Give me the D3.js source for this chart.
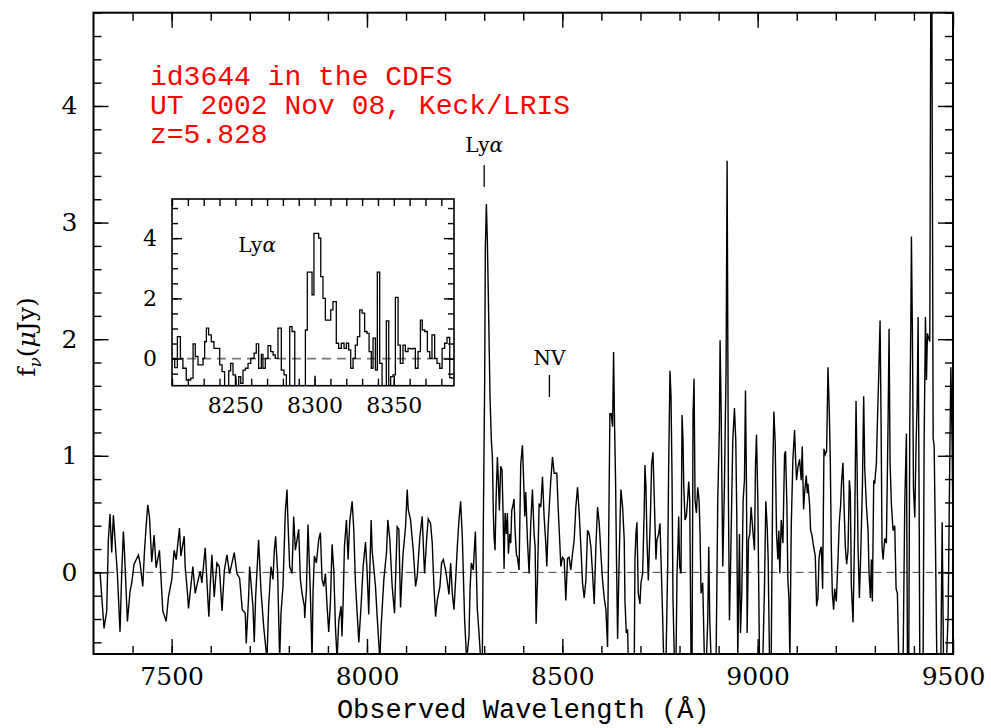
<!DOCTYPE html>
<html>
<head>
<meta charset="utf-8">
<script src="https://cdn.jsdelivr.net/npm/d3@7"></script>
<style>
  body { margin: 0; background: #fff; }
  svg { display: block; }
</style>
</head>
<body>
<svg id="chart" width="991" height="728"></svg>
<script>
// Observed wavelength (A) of each vertex of the 1-d spectrum
const wavelength = [
  // 7300 - 7790
  7316.7,7326.9,7333.8,7338.0,7342.3,7346.6,7350.9,7355.1,7361.1,7367.9,
  7372.2,7376.5,7379.1,7386.8,7393.6,7397.9,7403.8,7415.0,7419.2,7426.1,
  7430.3,7434.6,7438.9,7443.2,7449.1,7455.1,7460.3,7468.8,7472.2,7477.4,
  7485.9,7491.9,7500.4,7506.4,7511.5,7520.1,7523.5,7532.1,7534.6,7540.6,
  7543.2,7549.1,7554.3,7560.3,7566.2,7573.1,7577.4,7585.9,7591.9,7595.3,
  7598.7,7603.0,7609.0,7615.8,7622.0,7629.0,7635.0,7641.5,7648.3,7660.3,
  7667.1,7674.0,7680.8,7688.5,7691.0,7697.0,7699.6,7708.1,7711.5,7715.0,
  7722.6,7728.6,7735.5,7744.0,7748.3,7754.3,7759.4,7762.8,7766.2,7771.4,
  7776.5,7779.9,7785.0,
  // 7790 - 8270
  7791.0,7795.3,7797.0,7802.1,7808.1,7812.4,7816.7,7821.0,7825.2,7829.5,
  7833.8,7839.7,7840.6,7844.9,7849.1,7855.1,7859.4,7862.0,7865.4,7870.5,
  7876.5,7880.8,7885.0,7889.3,7893.6,7897.9,7902.1,7906.4,7910.7,7915.0,
  7919.2,7923.5,7927.8,7933.8,7936.0,7938.9,7942.3,7947.4,7951.7,7956.0,
  7962.0,7966.2,7970.5,7979.1,7985.0,7990.2,7996.2,8000.5,8004.5,8008.0,
  8010.7,8013.2,8021.8,8026.1,8032.9,8036.3,8043.2,8050.0,8053.4,8058.5,
  8064.5,8070.5,8073.1,8077.3,8081.6,8085.9,8091.9,8098.7,8103.0,8105.6,
  8111.5,8118.4,8124.4,8128.6,8135.5,8141.4,8145.7,8147.4,8152.6,8156.8,
  8162.8,8167.1,8171.4,8175.6,8179.9,8186.7,8191.0,8195.3,8201.3,8207.3,
  8209.8,8214.1,8218.4,8222.7,8227.0,8231.2,8235.5,8239.7,8244.0,8246.6,
  8250.0,8255.1,8261.1,8263.7,8267.1,
  // 8270 - 8645
  8272.0,8277.4,8282.5,8286.8,8291.0,8295.3,8297.9,8301.3,8303.0,8305.6,
  8308.1,8310.7,8315.0,8318.4,8321.0,8323.5,8325.2,8327.8,8330.4,8333.8,
  8336.3,8338.9,8342.3,8345.7,8348.3,8350.9,8353.4,8356.9,8359.4,8362.0,
  8365.4,8368.0,8370.5,8374.0,8376.5,8379.1,8382.5,8385.1,8389.3,8393.6,
  8397.9,8400.4,8403.9,8406.4,8410.7,8415.0,8419.2,8423.5,8427.8,8430.4,
  8432.9,8436.3,8440.6,8444.9,8449.2,8453.4,8457.7,8460.3,8463.7,8470.5,
  8474.8,8479.1,8485.9,8489.3,8492.8,8496.2,8500.4,8504.7,8509.0,8513.3,
  8517.5,8521.8,8526.1,8530.4,8534.6,8538.9,8543.2,8547.5,8551.7,8556.0,
  8560.3,8564.6,8568.8,8573.1,8577.4,8581.6,8585.9,8590.2,8594.5,8598.7,
  8603.0,8607.3,8611.6,8615.8,8618.4,8621.8,8625.2,8628.6,8631.2,8633.8,
  8636.3,8638.9,8641.5,8644.9,
  // 8645 - 9060
  8648.3,8650.0,8654.3,8658.5,8660.3,8663.7,8667.1,8668.8,8684.2,8685.9,
  8688.5,8691.0,8694.4,8698.7,8701.3,8705.6,8709.8,8711.5,8714.1,8716.7,
  8720.1,8725.2,8728.6,8732.1,8735.5,8739.7,8742.3,8746.6,8750.0,8752.6,
  8756.8,8759.4,8765.4,8769.7,8772.2,8775.6,8778.2,8780.8,8783.3,8786.8,
  8791.0,8793.6,8795.3,8797.9,8800.4,8803.8,8806.4,8809.0,8810.7,8814.1,
  8817.5,8820.9,8823.5,8826.1,8829.5,8832.1,8834.6,8837.2,8839.7,8843.2,
  8846.6,8850.0,8852.6,8855.1,8859.4,8863.7,8868.8,8872.2,8874.8,8877.4,
  8880.8,8893.6,8897.9,8902.1,8903.8,8906.4,8910.7,8915.0,8919.2,8921.8,
  8925.2,8927.8,8930.3,8936.3,8940.6,8944.0,8946.6,8949.1,8953.4,8956.0,
  8959.4,8962.8,8966.2,8968.8,8971.4,8973.1,8976.5,8979.9,8983.3,8987.6,
  8991.9,8994.4,8997.0,9000.4,9004.7,9013.2,9017.5,9020.9,9024.4,9026.9,
  9030.3,9034.6,9038.9,9041.5,9044.9,9048.3,9051.7,9054.3,9056.8,9060.3,
  // 9060 - 9500
  9064.6,9068.8,9071.4,9074.8,9077.4,9080.0,9082.5,9086.0,9090.2,9094.5,
  9097.1,9099.6,9103.0,9107.3,9111.6,9114.1,9117.6,9120.1,9124.4,9127.0,
  9128.7,9133.0,9135.5,9138.9,9143.2,9147.5,9150.9,9154.3,9156.9,9159.4,
  9162.9,9166.3,9169.7,9173.1,9176.5,9180.0,9183.4,9186.0,9188.5,9191.1,
  9194.5,9197.1,9201.3,9205.6,9209.0,9212.4,9215.0,9218.4,9221.0,9224.4,
  9227.8,9231.2,9234.7,9237.2,9239.8,9244.1,9248.3,9251.8,9254.3,9256.9,
  9260.3,9263.7,9268.0,9271.4,9274.0,9278.2,9282.5,9285.1,9288.5,9291.1,
  9293.6,9297.1,9299.6,9303.9,9306.5,9309.9,9313.3,9315.9,9318.4,9321.0,
  9325.3,9329.5,9333.8,9336.4,9338.9,9342.4,9346.6,9350.9,9354.3,9357.7,
  9361.2,9372.3,9376.5,9380.8,9383.4,9386.8,9389.4,9391.9,9393.6,9396.2,
  9398.8,9402.2,9405.6,9408.2,9410.7,9413.3,9415.0,9423.5,9426.1,9429.5,
  9432.1,9434.6,9437.2,9440.6,9443.2,9445.8,9449.2,9451.8,9455.2,9458.6,
  9468.9,9472.3,9475.7,9483.4,9487.6,9491.9,9494.5,9497.9,9500.0
];

// f_nu (micro-Jy) at each vertex; values below -0.7 / above 4.8 run off the frame
const flux = [
  0.00,-0.48,-0.33,0.28,0.50,0.17,0.49,0.28,-0.01,-0.51,
  -0.01,0.35,0.19,-0.42,-0.16,-0.09,0.07,0.15,0.08,-0.12,
  0.17,0.39,0.58,0.48,0.09,0.32,0.04,0.19,-0.01,-0.33,
  -0.42,-0.21,-0.06,0.19,0.11,0.38,0.14,0.31,0.05,-0.18,
  -0.31,-0.12,0.05,-0.18,-0.09,0.01,-0.09,0.21,-0.18,-0.38,
  -0.12,0.15,-0.21,0.08,0.05,-0.33,0.02,0.15,-0.01,0.17,
  -0.01,-0.05,-0.32,-0.35,-0.61,-0.21,0.05,-0.29,-0.60,-0.21,
  0.28,-0.15,-0.46,-0.75,-0.29,0.05,-0.06,0.19,0.31,-0.01,
  -0.75,-0.35,-0.12,

  0.52,0.71,0.51,0.05,-0.01,0.48,0.19,0.28,0.37,-0.06,
  -0.18,-0.29,-0.39,-0.15,0.41,-0.18,-0.75,-0.16,0.14,0.08,
  0.28,0.34,-0.06,-0.12,-0.01,-0.29,-0.51,-0.26,0.24,0.02,
  -0.46,-0.75,-0.42,-0.29,-0.55,-0.26,0.22,0.45,0.11,0.44,
  0.61,0.37,-0.09,-0.60,-0.28,0.05,0.26,0.00,-0.36,0.10,
  0.45,0.19,-0.12,-0.38,-0.75,-0.46,-0.06,0.17,0.45,0.28,
  -0.12,-0.35,-0.06,0.39,0.37,-0.30,0.14,0.39,0.71,0.54,
  0.45,0.19,-0.12,-0.03,0.31,0.48,0.11,-0.01,0.28,0.46,
  0.42,0.25,-0.12,-0.38,-0.24,-0.12,0.08,0.11,0.02,-0.12,
  -0.19,0.08,-0.18,-0.32,-0.06,0.22,0.45,0.61,0.31,-0.01,
  -0.41,-0.75,-0.55,-0.15,0.08,

  0.02,0.35,-0.32,-0.52,-0.75,-0.75,0.45,1.65,2.79,3.16,
  2.85,2.36,1.50,1.13,0.99,0.51,0.31,0.19,0.62,0.99,
  0.79,0.53,0.91,0.88,0.51,0.03,0.51,0.33,0.51,0.16,
  0.33,0.25,0.53,0.58,0.63,0.36,0.15,0.13,0.02,0.93,
  1.09,0.85,0.48,0.69,0.28,-0.01,0.42,0.71,0.33,0.22,
  -0.44,-0.07,0.59,0.56,0.82,0.48,0.25,0.05,0.39,0.79,
  0.99,0.85,0.85,0.56,0.31,0.05,0.13,0.11,-0.24,0.12,
  0.13,0.02,0.16,0.28,0.56,0.73,0.51,0.22,-0.09,-0.22,
  -0.07,0.36,0.33,0.22,-0.01,-0.27,0.22,0.56,0.42,0.16,
  -0.07,-0.22,-0.32,-0.64,0.22,1.36,1.36,1.25,1.89,1.25,
  0.79,0.05,-0.57,0.02,

  0.51,0.71,0.56,0.28,-0.24,-0.52,-0.49,-0.75,-0.75,0.11,
  0.33,0.43,-0.18,-0.27,-0.09,-0.01,0.56,0.92,0.73,0.28,
  -0.07,0.45,0.93,1.03,0.62,0.11,0.28,0.33,0.42,0.11,
  -0.38,-0.75,-0.75,0.05,0.91,1.73,1.51,0.82,-0.24,-0.75,
  -0.75,-0.01,0.16,0.48,0.05,-0.01,1.35,1.13,0.76,0.45,
  0.48,0.63,0.78,0.62,-0.75,-0.75,1.36,1.66,0.62,0.51,
  0.73,0.62,0.33,-0.18,-0.09,-0.75,-0.75,-0.41,0.22,-0.41,
  -0.75,-0.75,0.62,1.25,1.99,1.42,0.05,0.76,1.76,3.53,
  0.62,-0.41,-0.01,1.13,1.41,1.13,0.48,-0.75,0.33,-0.52,
  -0.18,0.62,0.79,1.56,0.73,-0.52,0.28,0.33,0.56,0.36,
  0.19,0.91,1.18,0.62,-0.75,-0.75,-0.12,0.61,0.39,0.11,
  -0.75,-0.75,0.91,1.38,1.11,0.33,0.11,0.36,-0.01,0.45,

  0.25,1.01,1.04,0.58,-0.07,-0.22,-0.75,0.40,0.97,1.22,
  0.97,0.79,0.90,0.97,0.79,1.08,0.54,0.68,0.83,0.68,
  0.76,0.58,0.36,0.32,0.22,0.14,-0.29,-0.22,0.11,0.18,
  0.22,-0.14,1.06,1.01,1.04,1.76,1.37,0.94,0.22,-0.18,
  -0.32,-0.14,-0.25,0.11,0.43,0.58,0.79,0.94,0.58,0.22,
  0.07,0.18,0.79,0.68,-0.11,-0.43,0.36,1.47,0.94,0.22,
  -0.22,0.14,0.72,1.51,0.90,0.58,0.36,0.00,-0.22,0.11,
  -0.25,0.79,0.76,0.94,1.29,1.69,2.16,1.29,0.22,0.11,
  0.29,0.25,1.29,2.09,0.94,0.58,0.36,0.40,-0.14,-0.18,
  -0.75,-0.75,0.58,1.19,-0.75,-0.75,1.29,2.09,2.88,2.01,
  0.72,0.47,1.12,1.44,2.19,0.58,-0.75,-0.75,1.12,2.19,
  1.65,2.05,2.01,1.98,5.00,5.00,1.15,1.08,0.22,-0.75,
  -0.75,0.43,-0.75,-0.75,-0.36,1.01,1.76,1.08,0.22
];

// inset: unsmoothed pixels around Ly-alpha, start wavelength of each step
const insetEdge = [
  8210.0,8211.7,8213.4,8215.3,8216.9,8219.0,8221.8,8223.3,8224.7,8226.4,
  8229.6,8230.6,8231.7,8233.1,8234.8,8236.5,8240.1,8241.6,8243.2,8245.8,
  8247.0,8248.5,8250.0,8252.1,8253.4,8254.8,8256.3,8258.0,8259.7,8261.8,
  8263.2,8264.7,8266.4,8267.4,8268.9,8270.6,8272.3,8273.8,8275.2,8276.9,
  8279.0,8280.7,8282.2,8284.3,8285.8,8287.5,8294.2,8295.4,8298.4,8299.6,
  8302.6,8303.9,8305.3,8306.8,8310.2,8311.6,8313.7,8315.2,8316.9,8318.6,
  8320.1,8321.5,8322.8,8324.3,8325.7,8327.0,8328.5,8330.0,8331.6,8333.1,
  8334.4,8335.8,8336.9,8338.4,8339.6,8341.1,8342.6,8345.3,8346.8,8348.0,
  8349.5,8351.0,8352.7,8354.1,8355.8,8357.3,8359.0,8360.5,8362.1,8363.6,
  8365.3,8366.8,8368.0,8369.5,8371.2,8372.7,8374.1,8375.8,8377.3,8379.0,
  8380.5,8382.1,8383.6,8385.3,8386.3
];
const insetFlux = [
  0.01,-0.30,0.73,0.01,-0.32,-0.71,-0.65,0.49,0.07,-0.21,
  0.01,0.56,1.01,0.79,0.56,0.34,-0.21,-0.43,-1.20,-0.41,
  -0.16,-0.54,-1.20,-0.60,-0.82,-0.38,-0.32,-0.16,0.01,0.18,
  0.49,-0.32,0.14,-0.32,0.01,0.43,0.23,0.12,0.01,1.01,
  -0.38,-0.54,-1.20,1.06,0.90,-1.20,0.95,2.87,2.12,4.16,
  4.00,2.72,2.00,1.28,1.62,1.89,0.51,0.34,0.51,0.34,
  0.51,0.29,-0.32,0.01,0.45,0.73,1.62,1.51,0.90,0.84,
  0.23,-0.32,0.68,-0.38,2.87,-0.16,-1.20,1.25,-1.20,-0.60,
  -0.54,2.03,0.45,-0.16,0.45,0.23,0.34,0.32,0.34,-0.32,
  0.23,1.28,0.95,0.90,0.23,0.01,0.79,0.01,-0.16,-0.32,
  0.34,0.51,0.70,-0.63,-0.65
];
const insetEnd = 8388;

const xMajor = [7500, 8000, 8500, 9000, 9500];
const yMajor = [0, 1, 2, 3, 4];
const insetXMajor = [8250, 8300, 8350];
const insetYMajor = [0, 2, 4];

const infoLines = ['id3644 in the CDFS', 'UT 2002 Nov 08, Keck/LRIS', 'z=5.828'];
const lineNames = ['Ly', 'NV'];
const lineWave = [8300, 8467];

const SERIF = "'DejaVu Serif', serif";
const MONO = "'Liberation Mono', monospace";

const svg = d3.select('#chart');

// ---- main panel ----
const x = d3.scaleLinear().domain([7300, 9500]).range([93.5, 953]);
const y = d3.scaleLinear().domain([-0.7, 4.8]).range([654, 12.7]);

svg.append('clipPath').attr('id', 'mainClip')
  .append('rect')
  .attr('x', x(7300)).attr('y', y(4.8))
  .attr('width', x(9500) - x(7300)).attr('height', y(-0.7) - y(4.8));

svg.append('line')
  .attr('x1', x(7300)).attr('x2', x(9500))
  .attr('y1', y(0)).attr('y2', y(0))
  .attr('stroke', '#444').attr('stroke-width', 1)
  .attr('stroke-dasharray', '8,5');

const spectrum = wavelength.map((w, i) => [w, flux[i]]);
svg.append('path')
  .datum(spectrum)
  .attr('clip-path', 'url(#mainClip)')
  .attr('fill', 'none')
  .attr('stroke', '#000')
  .attr('stroke-width', 1.4)
  .attr('d', d3.line().x(d => x(d[0])).y(d => y(d[1])));

const xMinor = d3.range(7400, 9500, 100);
const yMinor = d3.range(-3, 25).map(i => +(i * 0.2).toFixed(1));

const tidy = (g, size) => {
  g.select('.domain').remove();
  g.attr('font-family', SERIF).attr('font-size', size);
  g.selectAll('.tick line').attr('stroke', '#000').attr('stroke-width', 1.4);
  g.selectAll('.tick text').attr('fill', '#000').attr('font-family', SERIF);
};

const atBottom = `translate(0,${y(-0.7)})`;
const atTop = `translate(0,${y(4.8)})`;
const atLeft = `translate(${x(7300)},0)`;
const atRight = `translate(${x(9500)},0)`;

svg.append('g').attr('transform', atBottom)
  .call(d3.axisBottom(x).tickValues(xMinor).tickSize(-8).tickFormat(''))
  .call(g => tidy(g, 25));
svg.append('g').attr('transform', atBottom)
  .call(d3.axisBottom(x).tickValues(xMajor).tickSize(-15).tickPadding(13).tickFormat(d3.format('d')))
  .call(g => tidy(g, 25));
svg.append('g').attr('transform', atTop)
  .call(d3.axisTop(x).tickValues(xMinor).tickSize(-8).tickFormat(''))
  .call(g => tidy(g, 25));
svg.append('g').attr('transform', atTop)
  .call(d3.axisTop(x).tickValues(xMajor).tickSize(-15).tickFormat(''))
  .call(g => tidy(g, 25));
svg.append('g').attr('transform', atLeft)
  .call(d3.axisLeft(y).tickValues(yMinor).tickSize(-8).tickFormat(''))
  .call(g => tidy(g, 25));
svg.append('g').attr('transform', atLeft)
  .call(d3.axisLeft(y).tickValues(yMajor).tickSize(-15).tickPadding(16).tickFormat(d3.format('d')))
  .call(g => tidy(g, 25));
svg.append('g').attr('transform', atRight)
  .call(d3.axisRight(y).tickValues(yMinor).tickSize(-8).tickFormat(''))
  .call(g => tidy(g, 25));
svg.append('g').attr('transform', atRight)
  .call(d3.axisRight(y).tickValues(yMajor).tickSize(-15).tickFormat(''))
  .call(g => tidy(g, 25));

svg.append('rect')
  .attr('x', x(7300)).attr('y', y(4.8))
  .attr('width', x(9500) - x(7300)).attr('height', y(-0.7) - y(4.8))
  .attr('fill', 'none').attr('stroke', '#000').attr('stroke-width', 2);

// axis titles
svg.append('text')
  .attr('x', (x(7300) + x(9500)) / 2).attr('y', 718)
  .attr('text-anchor', 'middle')
  .attr('font-family', MONO).attr('font-size', 27)
  .text('Observed Wavelength (Å)');

svg.append('text')
  .attr('transform', 'translate(35,337) rotate(-90)')
  .attr('text-anchor', 'middle')
  .attr('font-family', SERIF).attr('font-size', 25)
  .call(t => {
    t.append('tspan').text('f');
    t.append('tspan').attr('dy', 6).attr('font-size', 17).attr('font-style', 'italic').text('ν');
    t.append('tspan').attr('dy', -6).text('(');
    t.append('tspan').attr('font-style', 'italic').text('μ');
    t.append('tspan').text('Jy)');
  });

// red header
svg.append('g')
  .selectAll('text')
  .data(infoLines)
  .join('text')
  .attr('x', 150)
  .attr('y', (_d, i) => 85 + i * 29.2)
  .attr('font-family', MONO).attr('font-size', 28)
  .attr('fill', '#ff0000')
  .text(d => d);

// line markers: label baseline and tick span (pixels) for Lya and NV
const markLayout = [
  { label: 152, tick: [165, 187] },
  { label: 365, tick: [375, 397] },
];
const markers = svg.append('g')
  .selectAll('g')
  .data(lineNames)
  .join('g');
markers.append('line')
  .attr('x1', (_d, i) => x(lineWave[i])).attr('x2', (_d, i) => x(lineWave[i]))
  .attr('y1', (_d, i) => markLayout[i].tick[0]).attr('y2', (_d, i) => markLayout[i].tick[1])
  .attr('stroke', '#000').attr('stroke-width', 1.3);
markers.append('text')
  .attr('x', (_d, i) => x(lineWave[i]))
  .attr('y', (_d, i) => markLayout[i].label)
  .attr('text-anchor', 'middle')
  .attr('font-family', SERIF).attr('font-size', 20)
  .each(function (d) {
    const t = d3.select(this);
    t.append('tspan').text(d);
    if (d === 'Ly') t.append('tspan').attr('font-style', 'italic').text('α');
  });

// ---- inset ----
const ix = d3.scaleLinear().domain([8210, insetEnd]).range([172, 454]);
const iy = d3.scaleLinear().domain([-0.9, 5.3]).range([385.7, 199]);

const inset = svg.append('g');
inset.append('rect')
  .attr('x', ix(8210)).attr('y', iy(5.3))
  .attr('width', ix(insetEnd) - ix(8210)).attr('height', iy(-0.9) - iy(5.3))
  .attr('fill', '#fff');

svg.append('clipPath').attr('id', 'insetClip')
  .append('rect')
  .attr('x', ix(8210)).attr('y', iy(5.3))
  .attr('width', ix(insetEnd) - ix(8210)).attr('height', iy(-0.9) - iy(5.3));

inset.append('line')
  .attr('x1', ix(8210)).attr('x2', ix(insetEnd))
  .attr('y1', iy(0)).attr('y2', iy(0))
  .attr('stroke', '#777').attr('stroke-width', 1.6)
  .attr('stroke-dasharray', '9,6');

const insetSteps = insetEdge.map((w, i) => [w, insetFlux[i]]);
insetSteps.push([insetEnd, insetFlux[insetFlux.length - 1]]);
inset.append('path')
  .datum(insetSteps)
  .attr('clip-path', 'url(#insetClip)')
  .attr('fill', 'none')
  .attr('stroke', '#000')
  .attr('stroke-width', 1.3)
  .attr('d', d3.line().curve(d3.curveStepAfter).x(d => ix(d[0])).y(d => iy(d[1])));

const ixMinor = d3.range(8210, insetEnd, 10);
const iyMinor = d3.range(-1, 11).map(i => i * 0.5);
const inBottom = `translate(0,${iy(-0.9)})`;
const inTop = `translate(0,${iy(5.3)})`;
const inLeft = `translate(${ix(8210)},0)`;
const inRight = `translate(${ix(insetEnd)},0)`;

inset.append('g').attr('transform', inBottom)
  .call(d3.axisBottom(ix).tickValues(ixMinor).tickSize(-7).tickFormat(''))
  .call(g => tidy(g, 22));
inset.append('g').attr('transform', inBottom)
  .call(d3.axisBottom(ix).tickValues(insetXMajor).tickSize(-10).tickPadding(11.5).tickFormat(d3.format('d')))
  .call(g => tidy(g, 22));
inset.append('g').attr('transform', inTop)
  .call(d3.axisTop(ix).tickValues(ixMinor).tickSize(-7).tickFormat(''))
  .call(g => tidy(g, 22));
inset.append('g').attr('transform', inLeft)
  .call(d3.axisLeft(iy).tickValues(iyMinor).tickSize(-6).tickFormat(''))
  .call(g => tidy(g, 22));
inset.append('g').attr('transform', inLeft)
  .call(d3.axisLeft(iy).tickValues(insetYMajor).tickSize(-10).tickPadding(15).tickFormat(d3.format('d')))
  .call(g => tidy(g, 22));
inset.append('g').attr('transform', inRight)
  .call(d3.axisRight(iy).tickValues(iyMinor).tickSize(-6).tickFormat(''))
  .call(g => tidy(g, 22));
inset.append('g').attr('transform', inRight)
  .call(d3.axisRight(iy).tickValues(insetYMajor).tickSize(-10).tickFormat(''))
  .call(g => tidy(g, 22));

inset.append('rect')
  .attr('x', ix(8210)).attr('y', iy(5.3))
  .attr('width', ix(insetEnd) - ix(8210)).attr('height', iy(-0.9) - iy(5.3))
  .attr('fill', 'none').attr('stroke', '#000').attr('stroke-width', 1.6);

inset.append('text')
  .attr('x', ix(8263.7)).attr('y', iy(3.55))
  .attr('text-anchor', 'middle')
  .attr('font-family', SERIF).attr('font-size', 20)
  .call(t => {
    t.append('tspan').text('Ly');
    t.append('tspan').attr('font-style', 'italic').text('α');
  });
</script>
</body>
</html>
